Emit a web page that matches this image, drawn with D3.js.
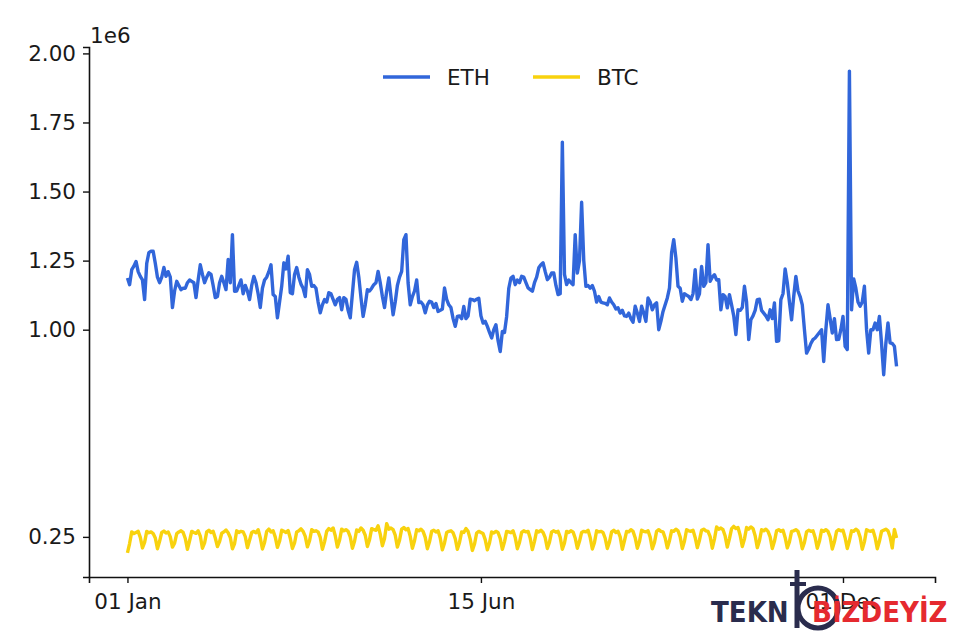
<!DOCTYPE html>
<html>
<head>
<meta charset="utf-8">
<script src="https://cdn.jsdelivr.net/npm/d3@7"></script>
<style>
  html, body { margin: 0; padding: 0; background: #fff; }
  svg { display: block; }
  text { font-family: "DejaVu Sans", sans-serif; }
</style>
</head>
<body>
<svg id="chart" width="960" height="640"></svg>
<script>
// ---- DATA (values in units of 1e6) ----
const startDate = "2022-01-01";
const seriesNames = ["ETH", "BTC"];
const yTickValues = [0.25, 1.00, 1.25, 1.50, 1.75, 2.00];
const xTickDates = ["2022-01-01", "2022-06-15", "2022-12-01"];
const offsetLabel = "1e6";

const ethValues = [
  1.187,1.163,1.217,1.230,1.247,1.210,1.193,1.180,1.109,1.240,
  1.279,1.284,1.284,1.240,1.190,1.170,1.190,1.225,1.193,1.210,
  1.190,1.080,1.140,1.175,1.160,1.145,1.150,1.150,1.170,1.180,
  1.175,1.170,1.116,1.180,1.235,1.200,1.170,1.190,1.206,1.200,
  1.160,1.116,1.120,1.170,1.193,1.170,1.145,1.254,1.170,1.344,
  1.139,1.140,1.160,1.180,1.130,1.160,1.140,1.109,1.160,1.193,
  1.170,1.130,1.080,1.150,1.180,1.190,1.210,1.235,1.127,1.120,
  1.043,1.100,1.157,1.242,1.220,1.266,1.134,1.130,1.200,1.225,
  1.190,1.165,1.150,1.120,1.217,1.200,1.157,1.160,1.150,1.100,
  1.061,1.090,1.109,1.100,1.134,1.130,1.110,1.090,1.110,1.116,
  1.072,1.116,1.110,1.070,1.043,1.130,1.217,1.244,1.190,1.116,
  1.048,1.090,1.145,1.140,1.150,1.163,1.170,1.211,1.170,1.120,
  1.080,1.140,1.187,1.120,1.054,1.100,1.160,1.190,1.211,1.326,
  1.344,1.169,1.090,1.120,1.140,1.180,1.098,1.100,1.090,1.061,
  1.090,1.103,1.100,1.080,1.095,1.066,1.070,1.075,1.151,1.110,
  1.090,1.080,1.040,1.012,1.048,1.050,1.040,1.084,1.040,1.050,
  1.110,1.109,1.105,1.110,1.114,1.050,1.024,1.030,1.012,0.990,
  0.970,1.000,1.018,0.960,0.921,0.994,0.990,1.048,1.150,1.187,
  1.193,1.163,1.180,1.170,1.193,1.190,1.170,1.151,1.145,1.139,
  1.170,1.190,1.224,1.235,1.242,1.210,1.181,1.190,1.205,1.205,
  1.160,1.127,1.130,1.679,1.200,1.163,1.180,1.170,1.163,1.344,
  1.205,1.250,1.461,1.250,1.157,1.160,1.150,1.160,1.139,1.100,
  1.120,1.100,1.097,1.095,1.090,1.115,1.100,1.090,1.075,1.079,
  1.060,1.070,1.050,1.048,1.060,1.040,1.027,1.085,1.060,1.030,
  1.085,1.060,1.030,1.115,1.100,1.072,1.090,1.097,1.000,1.030,
  1.066,1.090,1.115,1.150,1.278,1.326,1.260,1.157,1.150,1.103,
  1.130,1.125,1.120,1.109,1.130,1.217,1.111,1.130,1.229,1.157,
  1.170,1.308,1.175,1.190,1.199,1.180,1.181,1.072,1.127,1.120,
  1.079,1.127,1.090,1.050,0.982,1.072,1.070,1.080,1.157,1.100,
  0.964,1.036,1.050,1.070,1.109,1.110,1.070,1.060,1.050,1.036,
  1.072,1.040,1.097,0.958,0.960,1.109,1.130,1.220,1.170,1.100,
  1.036,1.120,1.193,1.140,1.120,1.090,1.000,0.915,0.930,0.950,
  0.964,0.970,0.980,0.990,1.000,0.885,1.000,1.090,1.040,0.988,
  1.040,0.964,0.965,1.000,1.048,0.940,0.928,1.936,1.072,1.184,
  1.150,1.100,1.085,1.100,1.157,1.000,0.915,1.000,1.000,1.024,
  1.000,1.048,0.950,0.837,0.950,1.024,0.952,0.950,0.940,0.867
];

const btcValues = [
  0.192,0.226,0.268,0.262,0.266,0.270,0.248,
  0.210,0.230,0.270,0.265,0.268,0.262,0.246,
  0.207,0.234,0.266,0.271,0.264,0.268,0.250,
  0.213,0.227,0.262,0.268,0.272,0.266,0.244,
  0.205,0.236,0.270,0.266,0.263,0.272,0.253,
  0.209,0.228,0.268,0.274,0.266,0.270,0.246,
  0.215,0.233,0.263,0.268,0.275,0.265,0.248,
  0.207,0.226,0.272,0.266,0.270,0.268,0.251,
  0.211,0.238,0.266,0.270,0.265,0.276,0.247,
  0.206,0.230,0.270,0.278,0.268,0.272,0.249,
  0.212,0.234,0.274,0.270,0.266,0.273,0.245,
  0.208,0.228,0.268,0.272,0.279,0.270,0.252,
  0.214,0.236,0.276,0.270,0.272,0.268,0.248,
  0.205,0.232,0.270,0.280,0.274,0.282,0.254,
  0.213,0.238,0.278,0.272,0.276,0.270,0.250,
  0.209,0.234,0.275,0.270,0.282,0.274,0.256,
  0.215,0.240,0.280,0.276,0.274,0.290,0.260,
  0.218,0.244,0.298,0.278,0.282,0.276,0.256,
  0.213,0.238,0.278,0.284,0.276,0.280,0.252,
  0.209,0.236,0.276,0.272,0.278,0.270,0.248,
  0.207,0.232,0.270,0.274,0.268,0.272,0.246,
  0.203,0.228,0.266,0.270,0.272,0.265,0.244,
  0.205,0.230,0.268,0.266,0.280,0.270,0.242,
  0.201,0.224,0.264,0.270,0.266,0.262,0.240,
  0.203,0.228,0.268,0.264,0.270,0.266,0.244,
  0.205,0.232,0.270,0.268,0.265,0.272,0.248,
  0.207,0.230,0.266,0.272,0.268,0.270,0.245,
  0.204,0.234,0.272,0.268,0.274,0.266,0.247,
  0.208,0.231,0.268,0.272,0.267,0.270,0.249,
  0.205,0.228,0.270,0.266,0.272,0.268,0.246,
  0.209,0.234,0.266,0.270,0.268,0.274,0.248,
  0.206,0.230,0.272,0.268,0.270,0.266,0.245,
  0.208,0.232,0.268,0.274,0.266,0.270,0.250,
  0.205,0.236,0.270,0.268,0.276,0.270,0.247,
  0.209,0.233,0.274,0.270,0.268,0.272,0.249,
  0.207,0.230,0.270,0.276,0.270,0.268,0.246,
  0.210,0.236,0.272,0.270,0.278,0.272,0.250,
  0.208,0.234,0.276,0.272,0.270,0.274,0.248,
  0.211,0.238,0.274,0.278,0.272,0.270,0.251,
  0.209,0.242,0.286,0.278,0.282,0.276,0.253,
  0.213,0.244,0.280,0.288,0.280,0.284,0.256,
  0.215,0.242,0.284,0.278,0.286,0.280,0.254,
  0.211,0.236,0.276,0.272,0.278,0.270,0.250,
  0.208,0.234,0.272,0.276,0.270,0.274,0.248,
  0.210,0.232,0.270,0.272,0.276,0.270,0.246,
  0.207,0.230,0.268,0.274,0.270,0.272,0.248,
  0.209,0.234,0.274,0.270,0.276,0.270,0.250,
  0.206,0.232,0.270,0.276,0.272,0.274,0.247,
  0.208,0.236,0.272,0.270,0.278,0.272,0.249,
  0.205,0.232,0.276,0.272,0.270,0.274,0.248,
  0.207,0.234,0.270,0.274,0.278,0.272,0.250,
  0.210,0.277,0.246
];

// ---- CHART ----
const W = 960, H = 640;
const plot = { left: 89, right: 935, top: 47, bottom: 577 };
const colors = { ETH: "#3166da", BTC: "#f8d20e" };

const parse = d3.utcParse("%Y-%m-%d");
const t0 = parse(startDate);
const dates = ethValues.map((_, i) => d3.utcDay.offset(t0, i));
const eth = dates.map((d, i) => ({ date: d, value: ethValues[i] }));
const btc = dates.map((d, i) => ({ date: d, value: btcValues[i] }));

const svg = d3.select("#chart");

// matplotlib-like 5% margins
const xExt = d3.extent(dates);
const xPad = (xExt[1] - xExt[0]) * 0.05;
const x = d3.scaleUtc()
  .domain([new Date(+xExt[0] - xPad), new Date(+xExt[1] + xPad)])
  .range([plot.left, plot.right]);

const allVals = ethValues.concat(btcValues);
const yMin = d3.min(allVals), yMax = d3.max(allVals);
const yPad = (yMax - yMin) * 0.05;
const y = d3.scaleLinear()
  .domain([yMin - yPad, yMax + yPad])
  .range([plot.bottom, plot.top]);

const line = d3.line().x(d => x(d.date)).y(d => y(d.value));

// lines
svg.append("path").datum(eth)
  .attr("fill", "none").attr("stroke", colors.ETH)
  .attr("stroke-width", 3.4).attr("stroke-linejoin", "round")
  .attr("d", line);
svg.append("path").datum(btc)
  .attr("fill", "none").attr("stroke", colors.BTC)
  .attr("stroke-width", 3.4).attr("stroke-linejoin", "round")
  .attr("d", line);

// axes
const fontSize = 21.5;
const yAxis = d3.axisLeft(y).tickValues(yTickValues)
  .tickFormat(d3.format(".2f")).tickSizeOuter(0).tickSize(6).tickPadding(7);
const gy = svg.append("g").attr("transform", `translate(${plot.left},0)`).call(yAxis);
gy.select(".domain").attr("stroke", "#111").attr("stroke-width", 1.6);
gy.selectAll(".tick line").attr("stroke", "#111").attr("stroke-width", 1.4);
gy.selectAll(".tick text").attr("fill", "#1a1a1a")
  .style("font-size", fontSize + "px").style("font-family", "DejaVu Sans");

const xAxis = d3.axisBottom(x).tickValues(xTickDates.map(parse))
  .tickFormat(d3.utcFormat("%d %b")).tickSizeOuter(0).tickSize(6).tickPadding(11);
const gx = svg.append("g").attr("transform", `translate(0,${plot.bottom})`).call(xAxis);
gx.select(".domain").attr("stroke", "#111").attr("stroke-width", 1.6);
gx.selectAll(".tick line").attr("stroke", "#111").attr("stroke-width", 1.4);
gx.selectAll(".tick text").attr("fill", "#1a1a1a")
  .style("font-size", fontSize + "px").style("font-family", "DejaVu Sans");

// offset label
svg.append("text").attr("x", plot.left + 1).attr("y", 43)
  .attr("fill", "#1a1a1a").style("font-size", fontSize + "px")
  .text(offsetLabel);

// legend
const legend = svg.append("g");
const legendItems = [
  { name: seriesNames[0], x: 383 },
  { name: seriesNames[1], x: 533 }
];
legendItems.forEach(it => {
  legend.append("line").attr("x1", it.x).attr("x2", it.x + 47)
    .attr("y1", 77).attr("y2", 77)
    .attr("stroke", colors[it.name]).attr("stroke-width", 3.4);
  legend.append("text").attr("x", it.x + 64).attr("y", 85)
    .attr("fill", "#1a1a1a").style("font-size", fontSize + "px")
    .text(it.name);
});

// watermark overlay
const wm = svg.append("g");
wm.append("path")
  .attr("d", "M797,570 L797,628")
  .attr("stroke", "#2a2c4d").attr("stroke-width", 5).attr("fill", "none");
wm.append("path")
  .attr("d", "M790,584 L806,584")
  .attr("stroke", "#2a2c4d").attr("stroke-width", 4).attr("fill", "none");
wm.append("circle").attr("cx", 818).attr("cy", 608).attr("r", 20)
  .attr("fill", "none").attr("stroke", "#2a2c4d").attr("stroke-width", 5);
wm.append("text").attr("x", 711).attr("y", 622)
  .attr("fill", "#2a2c4d").style("font-family", "DejaVu Sans Condensed, DejaVu Sans")
  .style("font-weight", "bold").style("font-size", "29px").text("TEKN");
wm.append("text").attr("x", 812).attr("y", 622)
  .attr("fill", "#e52a2f").style("font-family", "DejaVu Sans Condensed, DejaVu Sans")
  .style("font-weight", "bold").style("font-size", "29px").text("BİZDEYİZ");
</script>
</body>
</html>
